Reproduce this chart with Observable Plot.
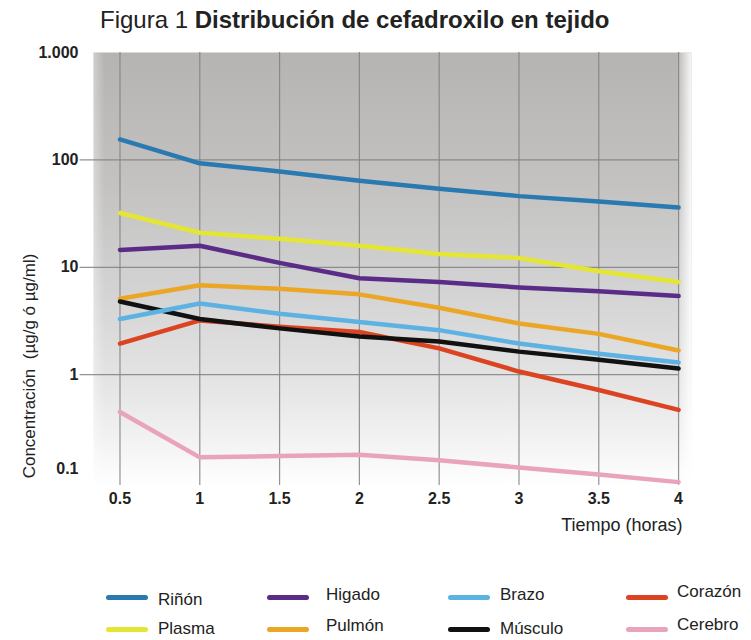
<!DOCTYPE html>
<html><head><meta charset="utf-8">
<script src="https://cdn.jsdelivr.net/npm/d3@7"></script>
<script src="https://cdn.jsdelivr.net/npm/@observablehq/plot@0.6"></script>
<style>
body{margin:0;background:#fff;font-family:"Liberation Sans",Arial,Helvetica,sans-serif;color:#222;width:751px;overflow:hidden;position:relative;}
#title{height:40px;position:relative;}
#title span{position:absolute;left:100px;top:6px;font-size:24px;white-space:nowrap;}
#ytitle{position:absolute;left:30px;top:366px;font-size:17px;white-space:pre;transform-origin:0 0;transform:rotate(-90deg) translate(-50%,-50%);}
#legend{position:relative;height:95px;}
.li{position:absolute;white-space:nowrap;font-size:17px;line-height:18px;}
.sw{position:absolute;height:5px;border-radius:3px;}
</style></head><body>
<div id="title"><span>Figura 1 <b>Distribución de cefadroxilo en tejido</b></span></div>
<div id="chart"></div>
<div id="legend"></div>
<div id="ytitle">Concentración  (µg/g ó µg/ml)</div>
<script>
const times = [0.5, 1, 1.5, 2, 2.5, 3, 3.5, 4];
const names = ["Riñón", "Plasma", "Higado", "Pulmón", "Corazón", "Músculo", "Brazo", "Cerebro"];
const colors = ["#2a79b0", "#e5e533", "#5a2c88", "#eba626", "#dc4421", "#111111", "#5cb3e3", "#eaa3bc"];
const rinon   = [155, 93, 78, 64, 54, 46, 41, 36];
const plasma  = [32, 21, 18.4, 15.9, 13.3, 12.2, 9.2, 7.3];
const higado  = [14.5, 15.9, 11, 7.9, 7.3, 6.5, 6.0, 5.4];
const pulmon  = [5.1, 6.8, 6.3, 5.6, 4.2, 3.0, 2.4, 1.68];
const corazon = [1.95, 3.2, 2.8, 2.5, 1.76, 1.07, 0.72, 0.47];
const musculo = [4.8, 3.3, 2.7, 2.27, 2.04, 1.64, 1.38, 1.14];
const brazo   = [3.3, 4.6, 3.7, 3.1, 2.6, 1.95, 1.57, 1.3];
const cerebro = [0.45, 0.17, 0.175, 0.18, 0.16, 0.137, 0.118, 0.1];
const seriesValues = [rinon, plasma, higado, pulmon, corazon, musculo, brazo, cerebro];
const xTicks = [0.5, 1, 1.5, 2, 2.5, 3, 3.5, 4];
const xTickLabels = ["0.5", "1", "1.5", "2", "2.5", "3", "3.5", "4"];
const yTicks = [1000, 100, 10, 1];
const yTickLabels = ["1.000", "100", "10", "1"];
const yLowTick = [0.1];
const yLowLabel = ["0.1"];
const yGrid = [100, 10, 1];
const legendOrder = [["Riñón", "Plasma"], ["Higado", "Pulmón"], ["Brazo", "Músculo"], ["Corazón", "Cerebro"]];

const rows = names.flatMap((n, k) => times.map((t, i) => ({t, v: seriesValues[k][i], name: n})));

const chart = Plot.plot({
  width: 751, height: 505,
  marginLeft: 93, marginRight: 60, marginTop: 12, marginBottom: 60,
  x: {type: "linear", domain: [0.334, 4.081], axis: null},
  y: {type: "log", domain: [0.093, 1000], axis: null},
  color: {domain: names, range: colors},
  style: {fontFamily: '"Liberation Sans",Arial,Helvetica,sans-serif', color: "#222", background: "transparent", overflow: "visible"},
  marks: [
    Plot.frame({fill: "url(#bgV)", stroke: "none"}),
    Plot.frame({fill: "url(#bgH)", stroke: "none"}),
    Plot.ruleX(xTicks, {x: d => d, stroke: "#808080", strokeWidth: 1.2, strokeOpacity: 0.85}),
    Plot.ruleY(yGrid, {y: d => d, x1: 0.25, x2: 4.0, stroke: "#808080", strokeWidth: 1.2, strokeOpacity: 0.85}),
    Plot.line(rows, {x: "t", y: "v", z: "name", stroke: "name", strokeWidth: 4.5, strokeLinejoin: "round", curve: "linear"}),
    Plot.text(yTicks, {x: 0.334, y: d => d, text: (d, i) => yTickLabels[i], dx: -15, textAnchor: "end", fontWeight: "bold", fontSize: 16}),
    Plot.text(yLowTick, {x: 0.334, y: d => d, text: (d, i) => yLowLabel[i], dx: -15, dy: -13, textAnchor: "end", fontWeight: "bold", fontSize: 16}),
    Plot.text(xTicks, {x: d => d, frameAnchor: "bottom", text: (d, i) => xTickLabels[i], dy: 18, fontWeight: "bold", fontSize: 16}),
    Plot.text(["Tiempo (horas)"], {frameAnchor: "bottom-right", text: d => d, dx: -9, dy: 45, textAnchor: "end", fontSize: 18})
  ]
});

const svg = d3.select(chart);
const defs = svg.insert("defs", ":first-child");
const gv = defs.append("linearGradient").attr("id", "bgV").attr("x1", 0).attr("y1", 0).attr("x2", 0).attr("y2", 1);
[[0, "#b6b4b2"], [0.3, "#c3c2c1"], [0.55, "#d3d3d3"], [0.78, "#e6e6e6"], [0.92, "#f5f5f5"], [1, "#ffffff"]]
  .forEach(([o, c]) => gv.append("stop").attr("offset", o).attr("stop-color", c));
const gh = defs.append("linearGradient").attr("id", "bgH").attr("x1", 0).attr("y1", 0).attr("x2", 1).attr("y2", 0);
[[0, "#fff", 0.35], [0.018, "#fff", 0], [0.975, "#fff", 0], [1, "#fff", 0.9]]
  .forEach(([o, c, a]) => gh.append("stop").attr("offset", o).attr("stop-color", c).attr("stop-opacity", a));

document.getElementById("chart").appendChild(chart);

const legend = document.getElementById("legend");
const colX = [106, 267, 448, 626];
const textX = [158, 326, 500, 677];
const rowY = [52, 84];
const labelY = [[55, 84], [50, 81], [50, 84], [47, 80]];
legendOrder.forEach((col, ci) => col.forEach((n, ri) => {
  const sw = document.createElement("div");
  sw.className = "sw";
  sw.style.left = colX[ci] + "px";
  sw.style.top = (rowY[ri] - 2) + "px";
  sw.style.width = "42px";
  sw.style.background = colors[names.indexOf(n)];
  legend.appendChild(sw);
  const lb = document.createElement("div");
  lb.className = "li";
  lb.textContent = n;
  lb.style.left = textX[ci] + "px";
  lb.style.top = (labelY[ci][ri] - 9) + "px";
  legend.appendChild(lb);
}));
</script>
</body></html>
